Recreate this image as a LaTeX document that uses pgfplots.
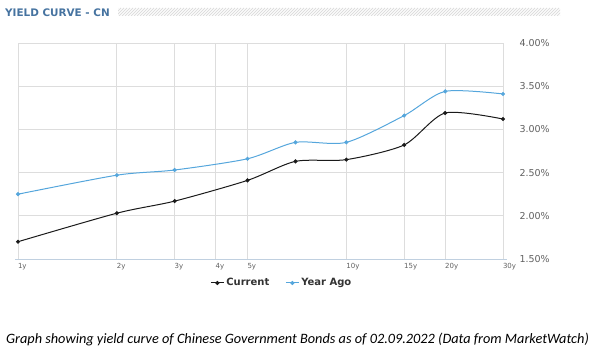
\documentclass[border=0pt]{standalone}
\usepackage{pgfplots}
\pgfplotsset{compat=1.18}
\usepackage{fontspec}
\setmainfont{DejaVu Sans}
\newfontfamily\capfont{Carlito}
\definecolor{titleblue}{HTML}{4673A0}
\definecolor{ticktext}{HTML}{606060}
\definecolor{gridc}{HTML}{DDDDDD}
\definecolor{axisc}{HTML}{C0D0E0}
\definecolor{curc}{HTML}{1A1A1A}
\definecolor{agoc}{HTML}{55A6DC}
\definecolor{legtext}{HTML}{333333}
\definecolor{hatchc}{HTML}{DDDDDD}
\begin{document}
\begin{tikzpicture}[x=1pt,y=1pt]
\useasboundingbox (0,0) rectangle (593,352);
% title
\node[anchor=west,inner sep=0pt,font=\fontsize{10.4}{12}\selectfont\bfseries,text=titleblue] at (5,339.5) {YIELD CURVE - CN};
\begin{scope}
\clip (118,336) rectangle (560,344);
\foreach \i in {110,113,...,566} {\draw[hatchc,line width=0.9pt] (\i,336) -- (\i+8,344);}
\end{scope}
\begin{axis}[
  at={(18pt,93pt)}, anchor=south west,
  scale only axis, width=485pt, height=216pt,
  xmode=log, xmin=1, xmax=30,
  ymin=1.5, ymax=4.0,
  xtick={1,2,3,4,5,10,15,20,30},
  xticklabels={1y,2y,3y,4y,5y,10y,15y,20y,30y},
  ytick={1.5,2.0,2.5,3.0,3.5,4.0},
  yticklabel pos=right,
  yticklabel={\pgfmathprintnumber[fixed,fixed zerofill,precision=2]{\tick}\%},
  /pgf/number format/assume math mode=true,
  yticklabel style={anchor=west,xshift=13pt,font=\fontsize{9.5}{11}\selectfont,text=ticktext},
  xticklabel style={anchor=north west,xshift=-3.5pt,yshift=-1pt,font=\fontsize{7}{8}\selectfont,text=ticktext},
  major tick length=0pt,
  tick style={draw=none},
  grid=major,
  major grid style={draw=gridc,line width=0.8pt},
  axis line style={draw=none},
  clip=false,
  legend columns=2,
  legend style={draw=none,fill=none,at={(0.544,-0.111)},anchor=center,
    font=\fontsize{10}{12}\selectfont\bfseries,text=legtext,
    /tikz/every even column/.append style={column sep=14pt}},
  legend image code/.code={\draw[#1,mark repeat=2,mark phase=2] plot coordinates {(0pt,0pt) (6.5pt,0pt) (13pt,0pt)};},
]
\draw[axisc,line width=0.9pt] (rel axis cs:-0.006,0) -- (rel axis cs:1.008,0);
\addplot[curc,line width=1pt,smooth,tension=0.45,mark=*,mark size=1.5pt] coordinates {
(1,1.70) (2,2.03) (3,2.17) (5,2.41) (7,2.63) (10,2.65) (15,2.82) (20,3.19) (30,3.12)};
\addlegendentry{Current}
\addplot[agoc,line width=1pt,smooth,tension=0.45,mark=*,mark size=1.5pt] coordinates {
(1,2.25) (2,2.47) (3,2.53) (5,2.66) (7,2.85) (10,2.85) (15,3.16) (20,3.44) (30,3.41)};
\addlegendentry{Year Ago}
\end{axis}
\node[font=\capfont\itshape\fontsize{14.3}{16}\selectfont] at (297.5,12) {Graph showing yield curve of Chinese Government Bonds as of 02.09.2022 (Data from MarketWatch)};
\end{tikzpicture}
\end{document}
